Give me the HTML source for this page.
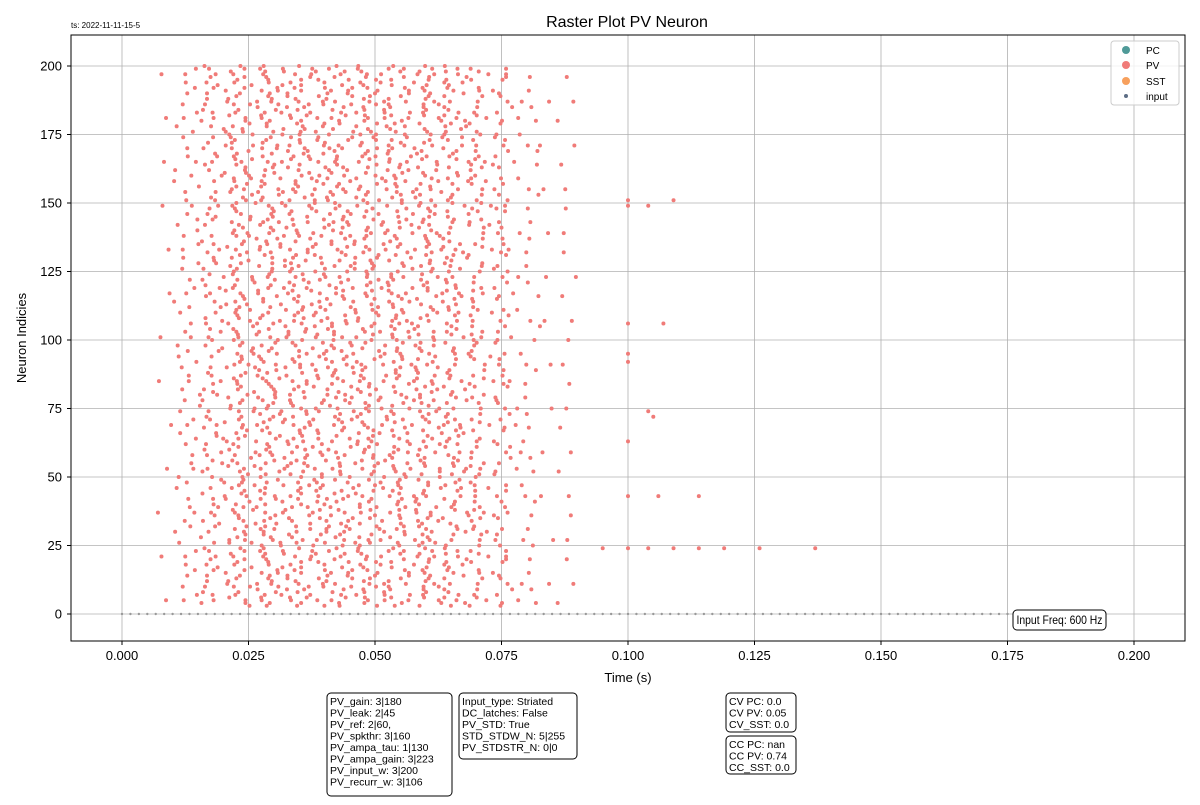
<!DOCTYPE html>
<html><head><meta charset="utf-8"><style>
body{margin:0;background:#fff;width:1200px;height:800px;overflow:hidden;font-family:"Liberation Sans",sans-serif}
svg text{font-family:"Liberation Sans",sans-serif}
</style></head><body>
<svg id="chart" width="1200" height="800" xmlns="http://www.w3.org/2000/svg">
<rect width="1200" height="800" fill="#fff"/>
<g id="grid"></g>
<g id="marks"></g>
<rect x="71" y="35" width="1114" height="606" fill="none" stroke="#000" stroke-width="1"/>
<g id="ticks"></g>
<text x="627" y="27" font-size="16" text-anchor="middle">Raster Plot PV Neuron</text>
<text x="71" y="28" font-size="8">ts: 2022-11-11-15-5</text>
<text x="628" y="682" font-size="13" text-anchor="middle">Time (s)</text>
<text x="26" y="338" font-size="13" text-anchor="middle" transform="rotate(-90 26 338)">Neuron Indicies</text>
<g>
<rect x="1111" y="41" width="68" height="64" rx="3" fill="#fff" fill-opacity="0.8" stroke="#ccc"/>
<circle cx="1126" cy="50" r="4" fill="#4f9a98"/><text x="1146" y="54" font-size="10">PC</text>
<circle cx="1126" cy="65" r="4" fill="#f07b78"/><text x="1146" y="69" font-size="10">PV</text>
<circle cx="1126" cy="81" r="4" fill="#f7a05d"/><text x="1146" y="85" font-size="10">SST</text>
<circle cx="1126" cy="96" r="2" fill="#5d6d85"/><text x="1146" y="100" font-size="10">input</text>
</g>
<g>
<rect x="1013" y="610" width="93" height="20" rx="4" fill="#fff" stroke="#000"/>
<text x="1016.5" y="624" font-size="12" textLength="86" lengthAdjust="spacingAndGlyphs">Input Freq: 600 Hz</text>
</g>
<g font-size="10.5">
<rect x="327" y="693" width="125" height="103" rx="4" fill="#fff" stroke="#000"/>
<text x="330" y="705">PV_gain: 3|180</text><text x="330" y="716.5">PV_leak: 2|45</text><text x="330" y="728">PV_ref: 2|60,</text><text x="330" y="739.5">PV_spkthr: 3|160</text><text x="330" y="751">PV_ampa_tau: 1|130</text><text x="330" y="762.5">PV_ampa_gain: 3|223</text><text x="330" y="774">PV_input_w: 3|200</text><text x="330" y="785.5">PV_recurr_w: 3|106</text>
<rect x="459" y="693" width="118" height="66" rx="4" fill="#fff" stroke="#000"/>
<text x="462" y="705">Input_type: Striated</text><text x="462" y="716.5">DC_latches: False</text><text x="462" y="728">PV_STD: True</text><text x="462" y="739.5">STD_STDW_N: 5|255</text><text x="462" y="751">PV_STDSTR_N: 0|0</text>
<rect x="726" y="693" width="70" height="39" rx="4" fill="#fff" stroke="#000"/>
<text x="729" y="705">CV PC: 0.0</text><text x="729" y="716.5">CV PV: 0.05</text><text x="729" y="728">CV_SST: 0.0</text>
<rect x="726" y="736" width="70" height="38" rx="4" fill="#fff" stroke="#000"/>
<text x="729" y="748">CC PC: nan</text><text x="729" y="759.5">CC PV: 0.74</text><text x="729" y="771">CC_SST: 0.0</text>
</g>
</svg>
<script>
const xTicks=[0,0.025,0.05,0.075,0.1,0.125,0.15,0.175,0.2];
const xTickLabels=["0.000","0.025","0.050","0.075","0.100","0.125","0.150","0.175","0.200"];
const yTicks=[0,25,50,75,100,125,150,175,200];
const onsetMs=[17,21,14,25,19,11,23,16,20,28,15,22,18,26,13,24];
const isiMs=[5.1,4.7,5.6,4.9,6.3,5.1,4.6,5.8,6.0,4.8,5.4,5.2,6.4,4.5,5.7,5.5];
const endMs=[72,80,65,77,88,70,75,92,68,79,74,84,66,86,71,78];
const phaseMs=[0,1.2,0.5,1.8,0.9,0.3,1.5,0.7];
const jitterMs=[0,0.9,-0.7,1.4,-1.2,0.4,-0.3,1.1,-1.0,0.6,-0.5];
const firstNeuron=3, lastNeuron=200;
const extraNeurons=[24,24,24,24,24,24,24,24,149,151,151,149,43,43,43,106,106,92,95,63,72,74];
const extraTimes=[0.095,0.1,0.104,0.109,0.114,0.119,0.126,0.137,0.1,0.1,0.109,0.104,0.1,0.106,0.114,0.1,0.107,0.1,0.1,0.1,0.105,0.104];
const inputPeriod=1/600, inputEnd=0.176;
const X=t=>122+t*5060, Y=n=>614-n*2.74;
const NS="http://www.w3.org/2000/svg";
const grid=document.getElementById('grid'),ticks=document.getElementById('ticks'),marks=document.getElementById('marks');
function mk(tag,attrs,parent){const e=document.createElementNS(NS,tag);for(const k in attrs)e.setAttribute(k,attrs[k]);parent.appendChild(e);return e;}
xTicks.forEach((v,i)=>{
 const l=mk('line',{x1:X(v),x2:X(v),y1:35,y2:641,stroke:'#b0b0b0','stroke-width':0.8},grid);
 
 
 mk('line',{x1:X(v),x2:X(v),y1:641,y2:645,stroke:'#000'},ticks);
 const t=mk('text',{x:X(v),y:660,'font-size':13,'text-anchor':'middle'},ticks);t.textContent=xTickLabels[i];
 
 
});
yTicks.forEach(v=>{
 const l=mk('line',{x1:71,x2:1185,y1:Y(v),y2:Y(v),stroke:'#b0b0b0','stroke-width':0.8},grid);
 
 
 mk('line',{x1:67,x2:71,y1:Y(v),y2:Y(v),stroke:'#000'},ticks);
 const t=mk('text',{x:62,y:Y(v)+4.5,'font-size':13,'text-anchor':'end'},ticks);t.textContent=v;
 
 
});
for(let t=0;t<=inputEnd;t+=inputPeriod){
 const c=mk('circle',{cx:X(t),cy:Y(0),r:1.2,fill:'#999'},marks);
 
 
}
for(let n=firstNeuron;n<=lastNeuron;n++){
 const on=onsetMs[n%16]+phaseMs[n%8]-3, isi=isiMs[(n*7)%16], end=endMs[(n*5)%16];
 let k=n;
 for(let ms=on;ms<=end;ms+=isi){
  const tt=ms+jitterMs[k%11]; k+=3;
  const c=mk('circle',{cx:X(tt/1000),cy:Y(n),r:2,fill:'#f07b78'},marks);
  
  
 }
}
extraNeurons.forEach((n,i)=>{
 const c=mk('circle',{cx:X(extraTimes[i]),cy:Y(n),r:2,fill:'#f07b78'},marks);
 
 
});
</script>
</body></html>
